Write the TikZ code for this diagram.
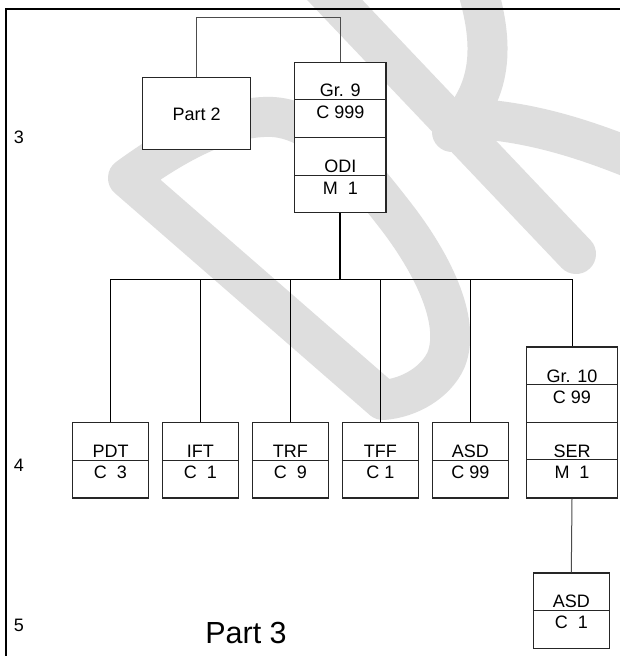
\documentclass[tikz,border=0pt]{standalone}
\usepackage{fontspec}
\setmainfont{Liberation Sans}
\begin{document}
\begin{tikzpicture}[x=1pt,y=-1pt,
  box/.style={draw=black!85,line width=1.1pt,fill=white,inner sep=0pt},
  txt/.style={inner sep=0pt,anchor=base,font=\fontsize{18}{20}\selectfont},
  link/.style={draw=black,line width=1pt},
  wm/.style={draw=black!13,line width=40pt,line cap=round,line join=round}]
\useasboundingbox (0,0) rectangle (620,656);
\fill[white] (0,0) rectangle (620,656);
\begin{scope}
\clip (0,0) rectangle (620,656);
% watermark
\draw[wm] (311,-25) -- (576,254);
\draw[wm] (473,-25) .. controls (495,40) and (495,90) .. (452,132);
\draw[wm] (460,118) .. controls (530,120) and (590,140) .. (660,170);
\draw[wm] (383,400) -- (128,178) .. controls (180,140) and (230,115) .. (273,117)
   .. controls (320,120) and (360,170) .. (395,215)
   .. controls (430,260) and (462,320) .. (446,360)
   .. controls (436,382) and (410,398) .. (383,400);
% border
\draw[line width=2pt] (6,700) -- (6,8.7) -- (700,8.7);
\end{scope}

% side labels
\node[txt] (l3) at (19,143) {3};
\node[txt] (l4) at (19,471) {4};
\node[txt] (l5) at (19,631) {5};
\node[inner sep=0pt,anchor=base,font=\fontsize{30.5}{32}\selectfont] (p3) at (246,643) {Part 3};

% Part 2
\node[box,minimum width=108,minimum height=71.6] (part2) at (196.7,113.5) {};
\node[txt] (part2t) at (196.7,120) {Part 2};

% Gr. 9 box
\node[box,minimum width=91.3,minimum height=150.4] (gr9) at (340.3,137.5) {};
\draw[black!85,line width=1.1pt] (gr9.west |- 0,99.3) -- (gr9.east |- 0,99.3);
\draw[black!85,line width=1.1pt] (gr9.west |- 0,137.7) -- (gr9.east |- 0,137.7);
\draw[black!85,line width=1.1pt] (gr9.west |- 0,175.3) -- (gr9.east |- 0,175.3);
\node[txt] (gr9a) at (340.3,96.6) {Gr. 9};
\node[txt] (gr9b) at (340.3,118.8) {C 999};
\node[txt] (gr9c) at (340.3,172.6) {ODI};
\node[txt] (gr9d) at (340.3,194.6) {M\ \ 1};

% Gr. 10 box
\node[box,minimum width=90.6,minimum height=151] (gr10) at (572,422.5) {};
\draw[black!85,line width=1.1pt] (gr10.west |- 0,384.7) -- (gr10.east |- 0,384.7);
\draw[black!85,line width=1.1pt] (gr10.west |- 0,422.3) -- (gr10.east |- 0,422.3);
\draw[black!85,line width=1.1pt] (gr10.west |- 0,459.7) -- (gr10.east |- 0,459.7);
\node[txt] (gr10a) at (572,382) {Gr. 10};
\node[txt] (gr10b) at (572,403.7) {C 99};
\node[txt] (gr10c) at (572,457) {SER};
\node[txt] (gr10d) at (572,478.7) {M\ \ 1};

% small boxes
\foreach \n/\x/\a/\b in {pdt/110.5/PDT/{C\ \ 3},ift/200.3/IFT/{C\ \ 1},trf/290.3/TRF/{C\ \ 9},tff/380.3/TFF/{C 1},asd/470.3/ASD/{C 99}}{
  \node[box,minimum width=76,minimum height=75.7] (\n) at (\x,460.15) {};
  \draw[black!85,line width=1.1pt] (\n.west) -- (\n.east);
  \node[txt] (\n a) at (\x,457) {\a};
  \node[txt] (\n b) at (\x,478.7) {\b};
}
\node[box,minimum width=76,minimum height=75.7] (asd2) at (571.3,610.85) {};
\draw[black!85,line width=1.1pt] (asd2.west) -- (asd2.east);
\node[txt] (asd2a) at (571.3,607.7) {ASD};
\node[txt] (asd2b) at (571.3,628.7) {C\ \ 1};

% connectors
\coordinate (topbar) at (0,17.7);
\coordinate (bar) at (0,279.3);
\draw[link,draw=black!70] (part2.north) -- (part2.north |- topbar) -| (gr9.north);
\draw[link,line width=1.8pt] (gr9.south) -- (gr9.south |- bar);
\draw[link] (pdt.north |- bar) -- (gr10.north |- bar);
\foreach \n in {pdt,ift,trf,tff,asd,gr10}{
  \draw[link] (\n.north |- bar) -- (\n.north);
}
\draw[link,draw=black!70] (gr10.south) -- (asd2.north);
\end{tikzpicture}
\end{document}
